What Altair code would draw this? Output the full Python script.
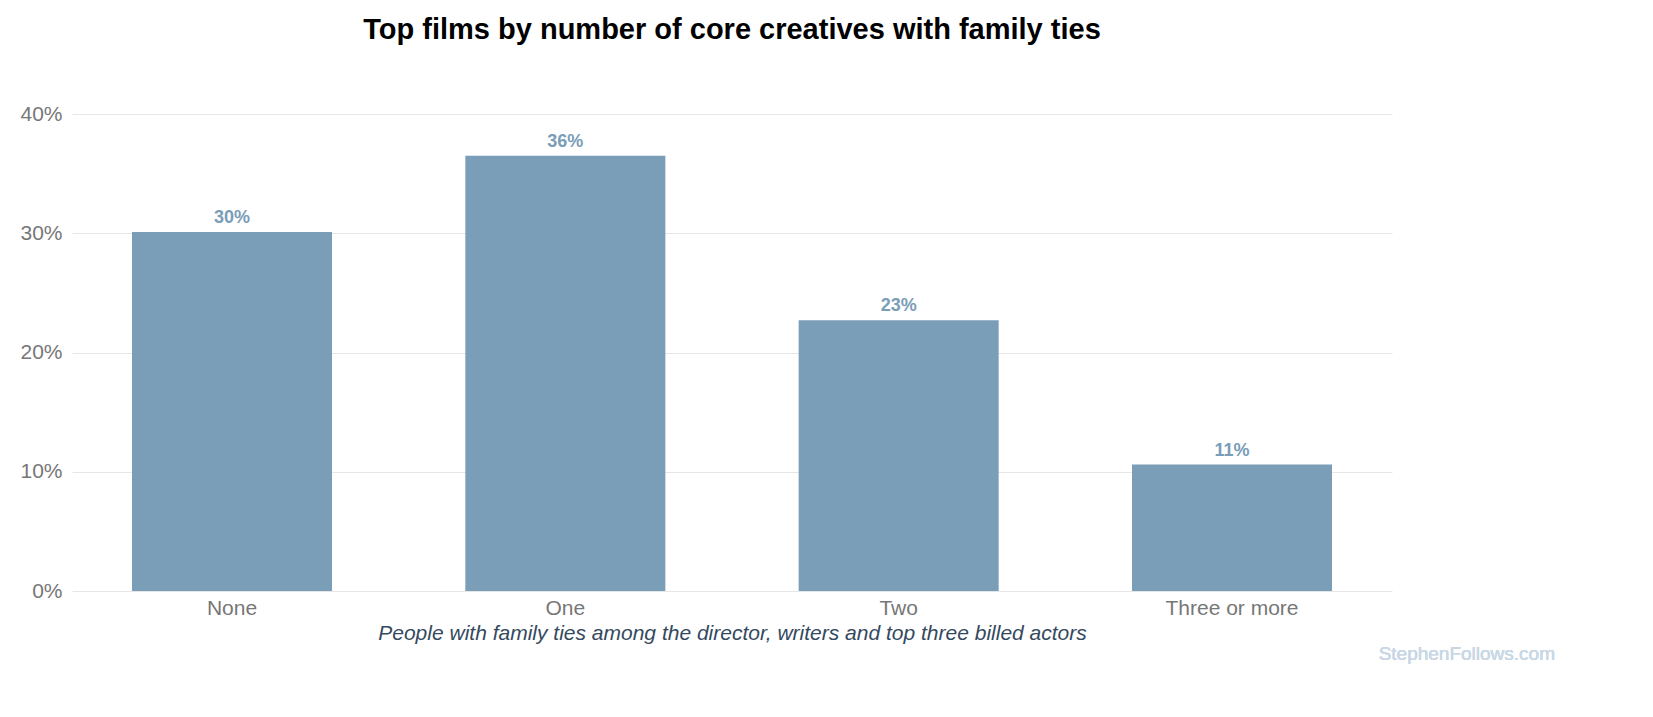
import altair as alt
import pandas as pd

categories = ["None", "One", "Two", "Three or more"]
shares = [0.301, 0.365, 0.227, 0.106]
labels = ["30%", "36%", "23%", "11%"]

df = pd.DataFrame({"ties": categories, "share": shares, "label": labels})

bar_color = "#7a9db8"
font = "Liberation Sans"

base = alt.Chart(df).encode(
    x=alt.X("ties:N", sort=categories,
            scale=alt.Scale(paddingInner=0.4, paddingOuter=0.18),
            axis=alt.Axis(title="People with family ties among the director, writers and top three billed actors",
                          titleFontStyle="italic", titleFontWeight="normal", titleFontSize=21,
                          titleColor="#34495e", titleFont=font, titlePadding=4,
                          labelAngle=0, labelFontSize=21, labelColor="#777777", labelFont=font,
                          domain=False, ticks=False, labelPadding=6)),
    y=alt.Y("share:Q", scale=alt.Scale(domain=[0, 0.4]),
            axis=alt.Axis(title=None, format=".0%", values=[0, 0.1, 0.2, 0.3, 0.4],
                          labelOverlap=False,
                          labelFontSize=21, labelColor="#777777", labelFont=font,
                          domain=False, ticks=False, gridColor="#e6e6e6", labelPadding=10)),
)

bars = base.mark_bar(color=bar_color)
text = base.mark_text(dy=-14, fontSize=18, fontWeight="bold", color=bar_color, font=font).encode(
    text="label:N")

mark = alt.Chart(df).mark_text(text="StephenFollows.com", align="right", baseline="middle",
                               fontSize=19, color="#c9d8e6", font=font).encode(
    x=alt.value(1483), y=alt.value(540))

chart = (bars + text + mark).properties(
    width=1320, height=477,
    title=alt.TitleParams("Top films by number of core creatives with family ties",
                          fontSize=29, font=font, fontWeight="bold", color="#000000",
                          offset=58, anchor="middle"),
    autosize=alt.AutoSizeParams(type="none"),
    padding={"left": 64, "top": 106, "right": 220, "bottom": 80},
).configure_view(stroke=None)

chart.save("out.html", embed_options={"renderer": "svg", "actions": False})
